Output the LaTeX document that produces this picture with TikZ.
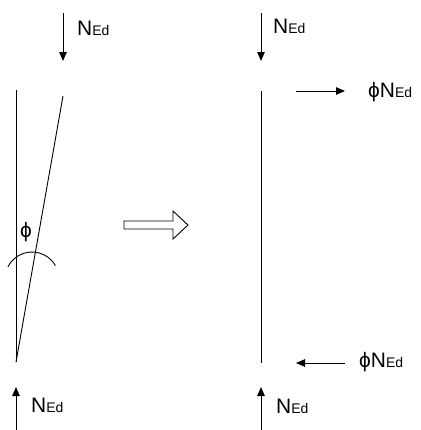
\documentclass[tikz,border=0pt]{standalone}
\usepackage{fontspec}
\setmainfont{Liberation Sans}
\usetikzlibrary{arrows.meta}
\newcommand{\NEd}{{\fontsize{21}{21}\selectfont N}{\fontsize{14}{14}\selectfont Ed}}
\newcommand{\phisym}{{\fontsize{21}{21}\selectfont ϕ}}
\tikzset{
  member/.style={line width=0.9bp},
  force/.style={line width=0.9bp,-{Triangle[length=9bp,width=7.5bp]}},
  lbl/.style={inner sep=0pt,anchor=base west},
}
\begin{document}
\begin{tikzpicture}[x=1bp,y=-1bp]
\useasboundingbox (0,0) rectangle (421,430);
% ---------- left diagram ----------
\coordinate (ltop0) at (63,13);
\coordinate (ltop1) at (63,61);
\draw[force] (ltop0) -- (ltop1);
\node[lbl] (lN1) at (77,35) {\NEd};
\coordinate (lA) at (16,90);
\coordinate (lB) at (16,362);
\coordinate (lC) at (63,96);
\draw[member] (lA) -- (lB);
\draw[member] (lC) -- (lB);
\coordinate (arcC) at (32,279);
\draw[member] (arcC) ++(207:27) arc[start angle=207,end angle=330,radius=27];
\node[inner sep=0pt] (phiL) at (26,232) {\phisym};
\coordinate (lbot0) at (16,430);
\coordinate (lbot1) at (16,387);
\draw[force] (lbot0) -- (lbot1);
\node[lbl] (lN2) at (31,412) {\NEd};
% ---------- block arrow ----------
\draw[line width=0.9bp] (124,221) -- (173,221) -- (173,211) -- (188,225) -- (173,239) -- (173,229) -- (124,229) -- cycle;
% ---------- right diagram ----------
\coordinate (rtop0) at (261,13);
\coordinate (rtop1) at (261,61);
\draw[force] (rtop0) -- (rtop1);
\node[lbl] (rN1) at (273,33) {\NEd};
\coordinate (rA) at (261,91);
\coordinate (rB) at (261,363);
\draw[member] (rA) -- (rB);
\coordinate (h1a) at (296,91);
\coordinate (h1b) at (345,91);
\draw[force] (h1a) -- (h1b);
\node[lbl] (rP1) at (368,97) {\phisym\NEd};
\coordinate (h2a) at (345,363);
\coordinate (h2b) at (296,363);
\draw[force] (h2a) -- (h2b);
\node[lbl] (rP2) at (359,367) {\phisym\NEd};
\coordinate (rbot0) at (261,430);
\coordinate (rbot1) at (261,387);
\draw[force] (rbot0) -- (rbot1);
\node[lbl] (rN2) at (276,413) {\NEd};
\end{tikzpicture}
\end{document}
